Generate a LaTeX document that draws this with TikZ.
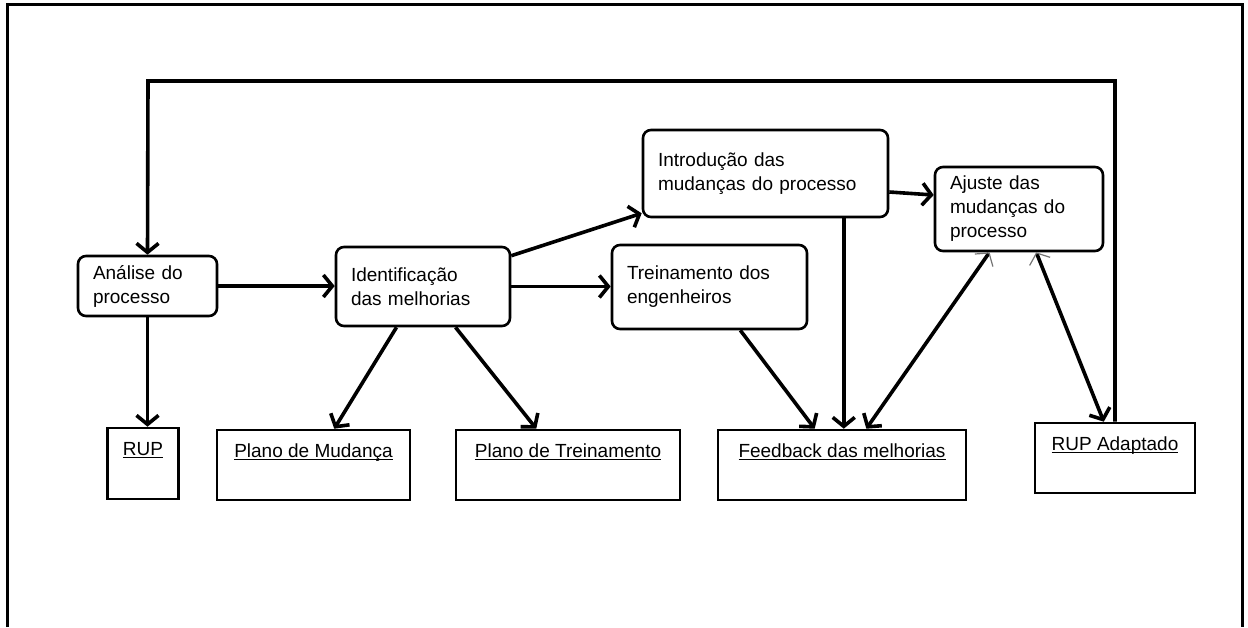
\documentclass[tikz,border=0pt]{standalone}
\usepackage{fontspec}
\setmainfont{Liberation Sans}
\usetikzlibrary{arrows.meta,calc}
% underline whose position does not depend on descenders
\newcommand\ulabel[1]{\underline{\raisebox{0pt}[\height][0pt]{#1}}}

\begin{document}
\begin{tikzpicture}[x=1pt,y=-1pt,
  font=\fontsize{19}{24}\selectfont,
  proc/.style={draw, line width=2.6pt, rounded corners=8pt, inner xsep=15pt,
    inner ysep=0pt, align=left},
  artifact/.style={draw, line width=2.6pt, inner sep=0pt},
  lbl/.style={inner sep=0pt, anchor=base},
  flow/.style={line width=3.6pt, -{Straight Barb[length=9pt,width=22pt]}},
  both/.style={line width=3.6pt,
    {Straight Barb[length=9pt,width=22pt,line width=1.2pt,color=black!55]}-{Straight Barb[length=9pt,width=22pt]}},
]
\useasboundingbox (0,0) rectangle (1248,627);

% outer frame (open at the bottom)
\draw[line width=3pt] (7,627) -- (7,4) -- (1242,4) -- (1242,627);

% process steps
\node[proc, minimum width=139pt, minimum height=60pt, text width=109pt]
  (ana) at (147.5,286) {Análise do\\processo};
\node[proc, minimum width=174pt, minimum height=79pt, text width=144pt]
  (idf) at (423,286.5) {Identificação\\das melhorias};
\node[proc, minimum width=245pt, minimum height=87pt, text width=215pt]
  (intro) at (765.5,173.5) {Introdução das\\mudanças do processo};
\node[proc, minimum width=195pt, minimum height=84pt, text width=165pt]
  (trein) at (709.5,287) {Treinamento dos\\engenheiros};
\node[proc, minimum width=168pt, minimum height=84pt, text width=138pt]
  (ajuste) at (1019,209) {Ajuste das\\mudanças do\\processo};

% artifacts
\node[artifact, minimum width=71pt, minimum height=71pt] (rup) at (143,463.5) {};
\node[artifact, minimum width=193pt, minimum height=70pt] (pm) at (313.5,465) {};
\node[artifact, minimum width=224pt, minimum height=70pt] (pt) at (568,465) {};
\node[artifact, minimum width=248pt, minimum height=70pt] (fb) at (842,465) {};
\node[artifact, minimum width=160pt, minimum height=70pt] (rupa) at (1115,458) {};

\node[lbl] (rupL) at ([yshift=-29pt]rup.north) {\ulabel{RUP}};
\node[lbl] (pmL) at ([yshift=-29pt]pm.north) {\ulabel{Plano de Mudança}};
\node[lbl] (ptL) at ([yshift=-29pt]pt.north) {\ulabel{Plano de Treinamento}};
\node[lbl] (fbL) at ([yshift=-29pt]fb.north) {\ulabel{Feedback das melhorias}};
\node[lbl] (rupaL) at ([yshift=-29pt]rupa.north) {\ulabel{RUP Adaptado}};

% feedback loop back to the start
\coordinate (loop) at (148,81);
\draw[flow] (rupa.north) |- (loop) -- (ana.north);

% flows
\draw[flow] (ana.east) -- (ana.east -| idf.west);
\draw[flow] (ana.south) -- (ana.south |- rup.north);
\draw[flow] ([yshift=-10pt]idf.north east) -- ([yshift=5pt]intro.south west);
\draw[flow] (idf.east) -- (idf.east -| trein.west);
\draw[flow] ($(idf.south west)!0.35!(idf.south east)$) -- ($(pm.north west)!0.606!(pm.north east)$);
\draw[flow] ($(idf.south west)!0.684!(idf.south east)$) -- ($(pt.north west)!0.36!(pt.north east)$);
\draw[flow] ($(trein.south west)!0.656!(trein.south east)$) -- ($(fb.north west)!0.391!(fb.north east)$);
\coordinate (introOut) at ($(intro.south west)!0.816!(intro.south east)$);
\draw[flow] (introOut) -- (introOut |- fb.north);
\draw[flow] ([yshift=-18.5pt]intro.east) -- ([yshift=14pt]ajuste.west);
\draw[both] ($(ajuste.south west)!0.327!(ajuste.south east)$) -- ($(fb.north west)!0.597!(fb.north east)$);
\draw[both] ($(ajuste.south west)!0.601!(ajuste.south east)$) -- ($(rupa.north west)!0.431!(rupa.north east)$);
\end{tikzpicture}
\end{document}
